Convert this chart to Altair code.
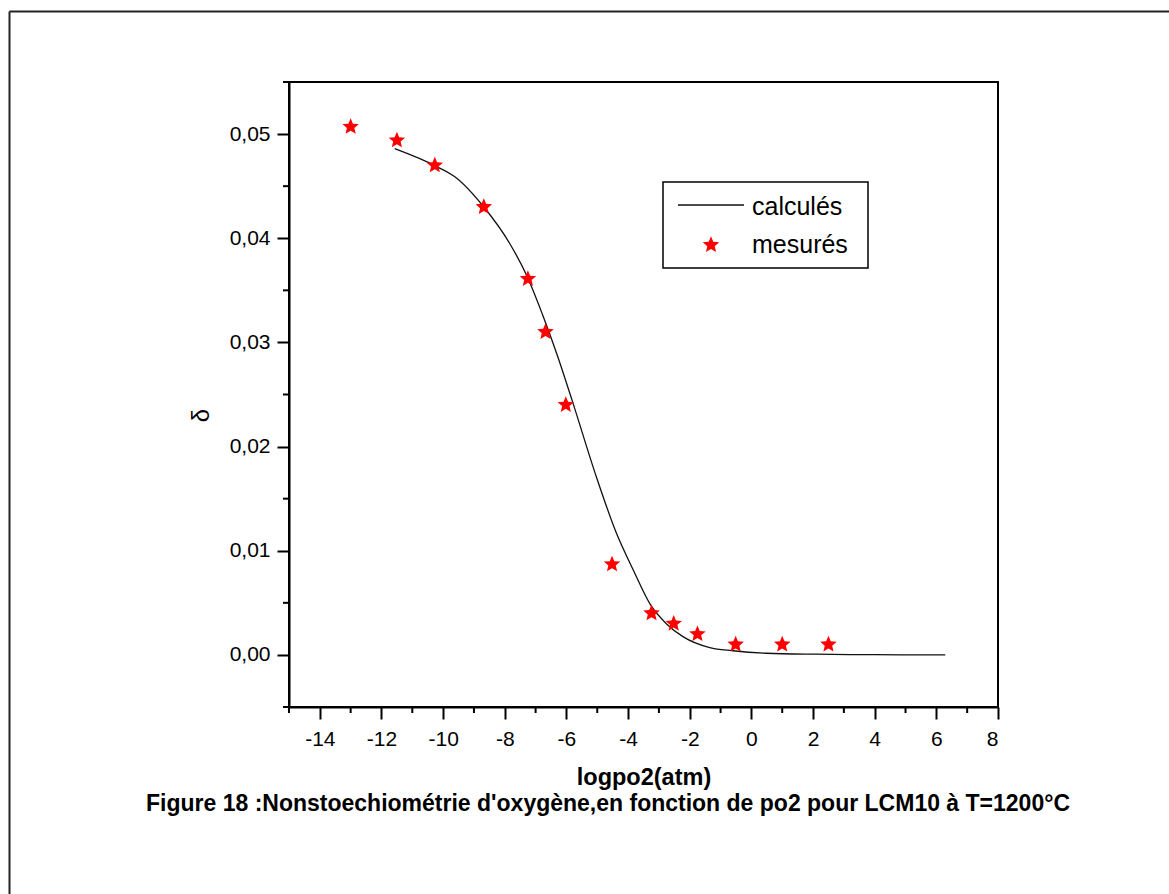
import altair as alt
import pandas as pd

# measured points (stars)
meas_x = [-13.0, -11.5, -10.27, -8.68, -7.25, -6.68, -6.02, -4.52, -3.24, -2.52, -1.75, -0.51, 1.0, 2.5]
meas_y = [0.0507, 0.0494, 0.0470, 0.0430, 0.0361, 0.0310, 0.0240, 0.0087, 0.0040, 0.0030, 0.0020, 0.0010, 0.0010, 0.0010]

# calculated curve
calc_x = [-11.57, -10.22, -9.62, -8.68, -7.84, -7.27, -6.78, -6.3, -5.79, -5.03, -4.38, -3.84, -3.27,
          -2.76, -2.22, -1.35, -0.6, 0.49, 2.1, 4.0, 6.29]
calc_y = [0.0486, 0.0469, 0.0459, 0.0430, 0.0395, 0.0363, 0.0327, 0.0288, 0.0242, 0.0171, 0.0117,
          0.0082, 0.0048, 0.0030, 0.00176, 0.0007, 0.0004, 0.00016, 0.00007, 0.00002, 0.0]

x_major = [-14, -12, -10, -8, -6, -4, -2, 0, 2, 4, 6, 8]
x_minor = [-15, -13, -11, -9, -7, -5, -3, -1, 1, 3, 5, 7]
y_major = [0.0, 0.01, 0.02, 0.03, 0.04, 0.05]
y_minor = [-0.005, 0.005, 0.015, 0.025, 0.035, 0.045, 0.055]

legend_labels = ["calculés", "mesurés"]
caption = "Figure 18 :Nonstoechiométrie d'oxygène,en fonction de po2 pour LCM10 à T=1200°C"
x_title = "logpo2(atm)"
y_title = "δ"

W, H = 709, 625
FONT = "Liberation Sans"
STAR = ("M0,-1 L0.2645,-0.364 L0.9511,-0.309 L0.428,0.139 L0.5878,0.809 L0,0.45 "
        "L-0.5878,0.809 L-0.428,0.139 L-0.9511,-0.309 L-0.2645,-0.364 Z")

xs = alt.Scale(domain=[-15, 8], nice=False, zero=False)
ys = alt.Scale(domain=[-0.005, 0.055], nice=False, zero=False)

xaxis = alt.Axis(values=x_major, title=x_title, labelExpr="datum.value", grid=False, orient="bottom",
                 tickSize=12, tickWidth=2, tickColor="black", domainWidth=2, domainColor="black",
                 labelFont=FONT, labelFontSize=21, labelColor="black", labelPadding=9,
                 titleFont=FONT, titleFontSize=23.5, titleFontWeight="bold", titleColor="black",
                 titleBaseline="middle", titleY=70)
yaxis = alt.Axis(values=y_major, title=y_title, orient="left",
                 labelExpr="replace(format(datum.value, '.2f'), '.', ',')", grid=False,
                 tickSize=12, tickWidth=2, tickColor="black", domainWidth=2, domainColor="black",
                 labelFont=FONT, labelFontSize=21, labelColor="black", labelPadding=7,
                 titleFont=FONT, titleFontSize=24, titleFontWeight="normal", titleColor="black",
                 titleAngle=270, titleX=-88, titleY=333, titleAlign="center", titleBaseline="middle")

calc_df = pd.DataFrame({"x": calc_x, "y": calc_y})
meas_df = pd.DataFrame({"x": meas_x, "y": meas_y})

X = alt.X("x:Q", scale=xs, axis=xaxis)
Y = alt.Y("y:Q", scale=ys, axis=yaxis)

line = alt.Chart(calc_df).mark_line(color="#111111", strokeWidth=1.3, interpolate="monotone").encode(x=X, y=Y)
stars = alt.Chart(meas_df).mark_point(shape=STAR, filled=True, color="#ff0000", size=300, opacity=1).encode(x=X, y=Y)

xminor = alt.Chart(pd.DataFrame({"x": x_minor})).mark_rule(color="black", strokeWidth=2, clip=False).encode(
    x=X, y=alt.value(H), y2=alt.value(H + 6))
yminor = alt.Chart(pd.DataFrame({"y": y_minor})).mark_rule(color="black", strokeWidth=2, clip=False).encode(
    y=Y, x=alt.value(-6), x2=alt.value(0))

one = pd.DataFrame({"a": [0]})
leg_box = alt.Chart(one).mark_rect(fill="white", stroke="black", strokeWidth=1.5).encode(
    x=alt.value(374), x2=alt.value(579), y=alt.value(100), y2=alt.value(186))
leg_line = alt.Chart(one).mark_rule(color="#111111", strokeWidth=1.3).encode(
    x=alt.value(389), x2=alt.value(455), y=alt.value(123))
leg_star = alt.Chart(one).mark_point(shape=STAR, filled=True, color="#ff0000", size=300, opacity=1).encode(
    x=alt.value(422), y=alt.value(163))
leg_t1 = alt.Chart(pd.DataFrame({"t": [legend_labels[0]]})).mark_text(
    font=FONT, fontSize=25, align="left", baseline="middle", color="black").encode(
    x=alt.value(463), y=alt.value(125), text="t:N")
leg_t2 = alt.Chart(pd.DataFrame({"t": [legend_labels[1]]})).mark_text(
    font=FONT, fontSize=25, align="left", baseline="middle", color="black").encode(
    x=alt.value(463), y=alt.value(163), text="t:N")

cap = alt.Chart(pd.DataFrame({"t": [caption]})).mark_text(
    font=FONT, fontSize=23, fontWeight="bold", align="center", baseline="middle", color="black").encode(
    x=alt.value(319), y=alt.value(722), text="t:N")

frame_top = alt.Chart(one).mark_rule(color="#222222", strokeWidth=2).encode(
    x=alt.value(-279.5), x2=alt.value(900), y=alt.value(-70.5))
frame_left = alt.Chart(one).mark_rule(color="#222222", strokeWidth=2).encode(
    x=alt.value(-279.5), y=alt.value(-70.5), y2=alt.value(830))

chart = alt.layer(
    line, stars, xminor, yminor, leg_box, leg_line, leg_star, leg_t1, leg_t2, cap, frame_top, frame_left
).properties(
    width=W, height=H,
    autosize=alt.AutoSizeParams(type="none"),
    padding={"left": 289, "top": 82, "right": 171, "bottom": 187},
    background="white",
).configure_view(stroke="black", strokeWidth=2)

chart.save("out.html", embed_options={"renderer": "svg", "actions": False})
